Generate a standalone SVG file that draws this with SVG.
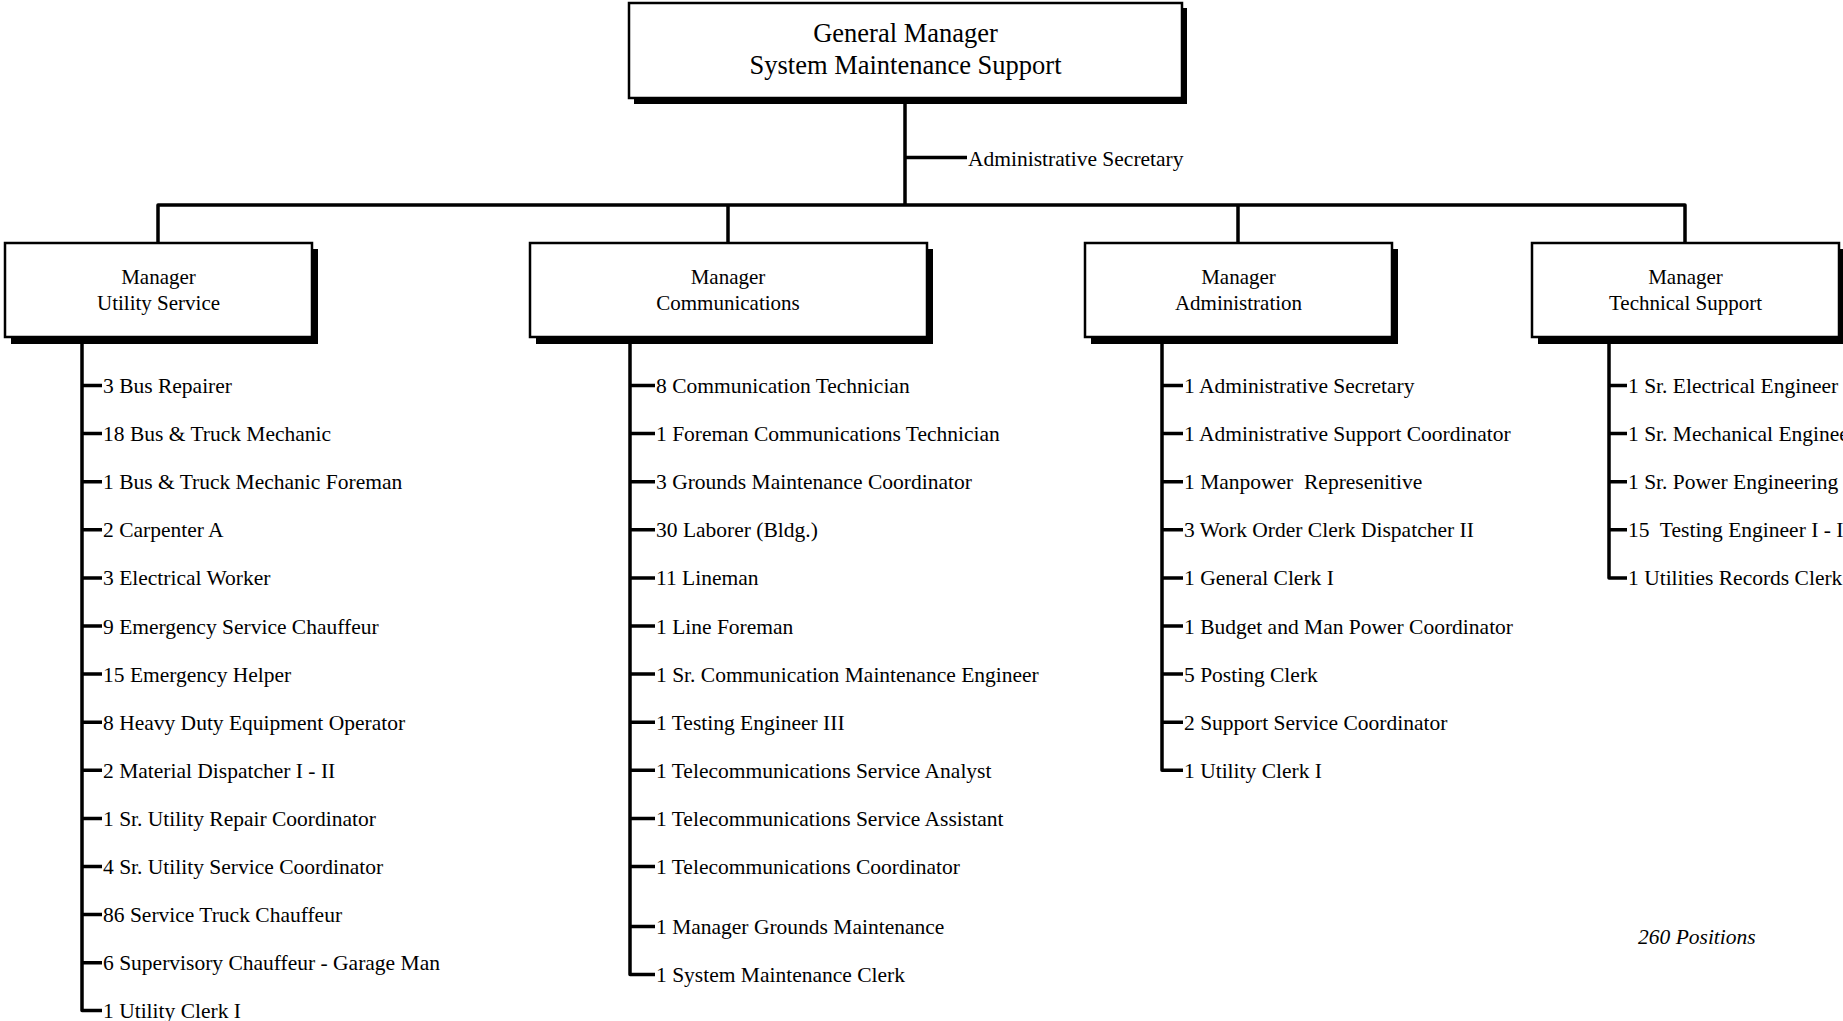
<svg xmlns="http://www.w3.org/2000/svg" width="1843" height="1021" viewBox="0 0 1843 1021">
<style>
text { font-family: "Liberation Serif", "Times New Roman", serif; fill: #000; }
.gm { font-size: 26.5px; text-anchor: middle; }
.mgr { font-size: 21px; text-anchor: middle; }
.it { font-size: 21.5px; white-space: pre; }
.note { font-size: 21.5px; font-style: italic; }
.box { fill: #fff; stroke: #000; stroke-width: 2.5; }
.shadow { fill: #000; }
.ln { fill: none; stroke: #000; stroke-width: 3.5; stroke-linejoin: round; }
</style>
<rect width="1843" height="1021" fill="#fff"/>

<g id="connectors">
  <path class="ln" d="M905 98 V205 M905 157.5 H967"/>
  <path class="ln" d="M158 243 V205 H1685 V243 M728 205 V243 M1238 205 V243"/>
  <path class="ln" d="M82 338 V1010.5 H102 M82 385.5 H102 M82 433.6 H102 M82 481.7 H102 M82 529.8 H102 M82 577.9 H102 M82 626 H102 M82 674.1 H102 M82 722.2 H102 M82 770.3 H102 M82 818.4 H102 M82 866.5 H102 M82 914.6 H102 M82 962.7 H102"/>
  <path class="ln" d="M630 338 V974.5 H655 M630 385.5 H655 M630 433.6 H655 M630 481.7 H655 M630 529.8 H655 M630 577.9 H655 M630 626 H655 M630 674.1 H655 M630 722.2 H655 M630 770.3 H655 M630 818.4 H655 M630 866.5 H655 M630 926.5 H655"/>
  <path class="ln" d="M1162 338 V770.3 H1183 M1162 385.5 H1183 M1162 433.6 H1183 M1162 481.7 H1183 M1162 529.8 H1183 M1162 577.9 H1183 M1162 626 H1183 M1162 674.1 H1183 M1162 722.2 H1183"/>
  <path class="ln" d="M1609 338 V577.9 H1627 M1609 385.5 H1627 M1609 433.6 H1627 M1609 481.7 H1627 M1609 529.8 H1627"/>
</g>

<g id="gm">
  <rect class="shadow" x="634" y="8" width="553" height="96"/>
  <rect class="box" x="629" y="3" width="553" height="95"/>
  <text class="gm" x="905.5" y="42">General Manager</text>
  <text class="gm" x="905.5" y="74">System Maintenance Support</text>
</g>
<g id="admin-secretary">
  <text class="it" x="968" y="165.5">Administrative Secretary</text>
</g>

<g id="mgr-utility">
  <rect class="shadow" x="11" y="249" width="307" height="95"/>
  <rect class="box" x="5" y="243" width="307" height="94"/>
  <text class="mgr" x="158.5" y="284">Manager</text>
  <text class="mgr" x="158.5" y="310">Utility Service</text>
</g>
<g id="mgr-communications">
  <rect class="shadow" x="536" y="249" width="397" height="95"/>
  <rect class="box" x="530" y="243" width="397" height="94"/>
  <text class="mgr" x="728" y="284">Manager</text>
  <text class="mgr" x="728" y="310">Communications</text>
</g>
<g id="mgr-administration">
  <rect class="shadow" x="1091" y="249" width="307" height="95"/>
  <rect class="box" x="1085" y="243" width="307" height="94"/>
  <text class="mgr" x="1238.5" y="284">Manager</text>
  <text class="mgr" x="1238.5" y="310">Administration</text>
</g>
<g id="mgr-technical">
  <rect class="shadow" x="1538" y="249" width="307" height="95"/>
  <rect class="box" x="1532" y="243" width="307" height="94"/>
  <text class="mgr" x="1685.5" y="284">Manager</text>
  <text class="mgr" x="1685.5" y="310">Technical Support</text>
</g>

<g id="utility-items">
  <text class="it" x="103" y="393">3 Bus Repairer</text>
  <text class="it" x="103" y="441.1">18 Bus &amp; Truck Mechanic</text>
  <text class="it" x="103" y="489.2">1 Bus &amp; Truck Mechanic Foreman</text>
  <text class="it" x="103" y="537.3">2 Carpenter A</text>
  <text class="it" x="103" y="585.4">3 Electrical Worker</text>
  <text class="it" x="103" y="633.5">9 Emergency Service Chauffeur</text>
  <text class="it" x="103" y="681.6">15 Emergency Helper</text>
  <text class="it" x="103" y="729.7">8 Heavy Duty Equipment Operator</text>
  <text class="it" x="103" y="777.8">2 Material Dispatcher I - II</text>
  <text class="it" x="103" y="825.9">1 Sr. Utility Repair Coordinator</text>
  <text class="it" x="103" y="874">4 Sr. Utility Service Coordinator</text>
  <text class="it" x="103" y="922.1">86 Service Truck Chauffeur</text>
  <text class="it" x="103" y="970.2">6 Supervisory Chauffeur - Garage Man</text>
  <text class="it" x="103" y="1018">1 Utility Clerk I</text>
</g>

<g id="communications-items">
  <text class="it" x="656" y="393">8 Communication Technician</text>
  <text class="it" x="656" y="441.1">1 Foreman Communications Technician</text>
  <text class="it" x="656" y="489.2">3 Grounds Maintenance Coordinator</text>
  <text class="it" x="656" y="537.3">30 Laborer (Bldg.)</text>
  <text class="it" x="656" y="585.4">11 Lineman</text>
  <text class="it" x="656" y="633.5">1 Line Foreman</text>
  <text class="it" x="656" y="681.6">1 Sr. Communication Maintenance Engineer</text>
  <text class="it" x="656" y="729.7">1 Testing Engineer III</text>
  <text class="it" x="656" y="777.8">1 Telecommunications Service Analyst</text>
  <text class="it" x="656" y="825.9">1 Telecommunications Service Assistant</text>
  <text class="it" x="656" y="874">1 Telecommunications Coordinator</text>
  <text class="it" x="656" y="934">1 Manager Grounds Maintenance</text>
  <text class="it" x="656" y="982">1 System Maintenance Clerk</text>
</g>

<g id="administration-items">
  <text class="it" x="1184" y="393">1 Administrative Secretary</text>
  <text class="it" x="1184" y="441.1">1 Administrative Support Coordinator</text>
  <text class="it" x="1184" y="489.2">1 Manpower  Represenitive</text>
  <text class="it" x="1184" y="537.3">3 Work Order Clerk Dispatcher II</text>
  <text class="it" x="1184" y="585.4">1 General Clerk I</text>
  <text class="it" x="1184" y="633.5">1 Budget and Man Power Coordinator</text>
  <text class="it" x="1184" y="681.6">5 Posting Clerk</text>
  <text class="it" x="1184" y="729.7">2 Support Service Coordinator</text>
  <text class="it" x="1184" y="777.8">1 Utility Clerk I</text>
</g>

<g id="technical-items">
  <text class="it" x="1628" y="393">1 Sr. Electrical Engineer</text>
  <text class="it" x="1628" y="441.1">1 Sr. Mechanical Engineer</text>
  <text class="it" x="1628" y="489.2">1 Sr. Power Engineering</text>
  <text class="it" x="1628" y="537.3">15  Testing Engineer I - II</text>
  <text class="it" x="1628" y="585.4">1 Utilities Records Clerk</text>
</g>

<g id="total">
  <text class="note" x="1638" y="944">260 Positions</text>
</g>
</svg>
